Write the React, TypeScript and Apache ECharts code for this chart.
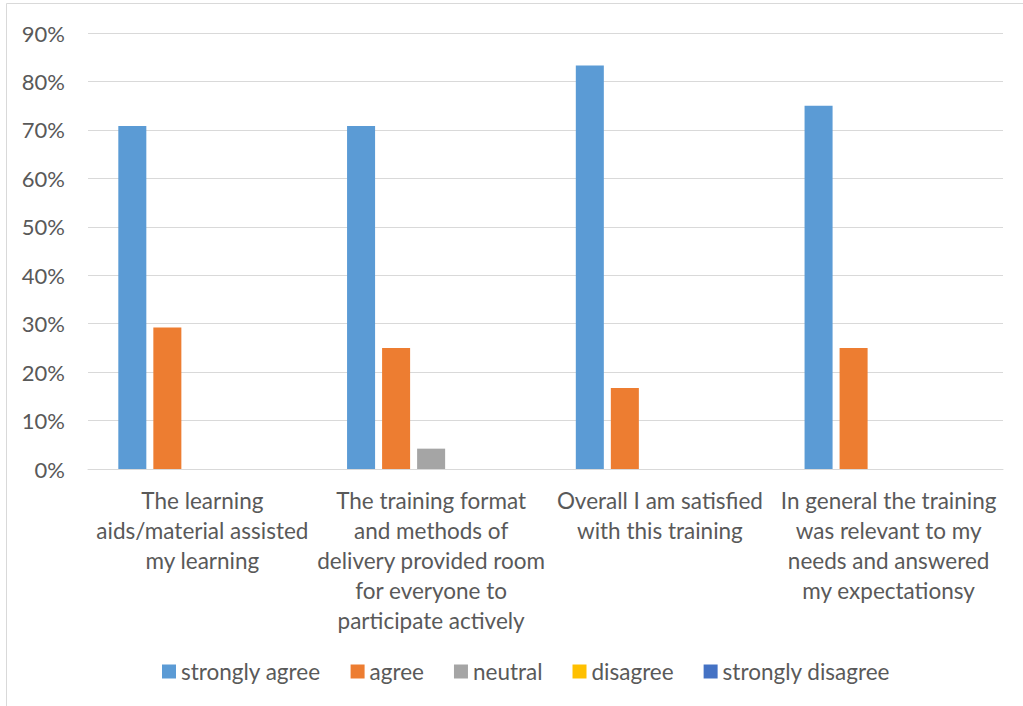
import React, { useEffect, useRef } from "react";
import * as echarts from "echarts";

const categories = [
  "The learning\naids/material assisted\nmy learning",
  "The training format\nand methods of\ndelivery provided room\nfor everyone to\nparticipate actively",
  "Overall I am satisfied\nwith this training",
  "In general the training\nwas relevant to my\nneeds and answered\nmy expectationsy",
];
const seriesNames = ["strongly agree", "agree", "neutral", "disagree", "strongly disagree"];
const stronglyAgree = [70.8, 70.8, 83.3, 75.0];
const agree = [29.2, 25.0, 16.7, 25.0];
const neutral = [0, 4.2, 0, 0];
const disagree = [0, 0, 0, 0];
const stronglyDisagree = [0, 0, 0, 0];
const colors = ["#5B9BD5", "#ED7D31", "#A5A5A5", "#FFC000", "#4472C4"];
const seriesData = [stronglyAgree, agree, neutral, disagree, stronglyDisagree];

const FONT = "Lato, 'Noto Sans', sans-serif";
const TEXT = "#595959";

export default function App() {
  const ref = useRef<HTMLDivElement>(null);
  useEffect(() => {
    if (!ref.current) return;
    const chart = echarts.init(ref.current, null, { renderer: "svg" });
    chart.setOption({
      animation: false,
      backgroundColor: "#ffffff",
      textStyle: { fontFamily: FONT },
      graphic: [
        {
          type: "rect",
          shape: { x: 6.5, y: 3.5, width: 1030, height: 720 },
          style: { fill: "none", stroke: "#d9d9d9", lineWidth: 1 },
          silent: true,
          z: -1,
        },
      ],
      grid: { left: 88, right: 20, top: 33, bottom: 237, containLabel: false },
      legend: {
        data: seriesNames,
        top: 655,
        left: 157,
        icon: "rect",
        itemWidth: 14,
        itemHeight: 14,
        itemGap: 30,
        textStyle: { color: TEXT, fontSize: 22.5, fontFamily: FONT },
      },
      xAxis: {
        type: "category",
        data: categories,
        axisLine: { lineStyle: { color: "#d9d9d9", width: 1 } },
        axisTick: { show: false },
        axisLabel: {
          interval: 0,
          color: TEXT,
          fontSize: 22.5,
          fontFamily: FONT,
          lineHeight: 30,
          margin: 16,
          align: "center",
        },
      },
      yAxis: {
        type: "value",
        min: 0,
        max: 90,
        interval: 10,
        axisLine: { show: false },
        axisTick: { show: false },
        splitLine: { lineStyle: { color: "#d9d9d9", width: 1 } },
        axisLabel: {
          color: TEXT,
          fontSize: 22,
          fontFamily: FONT,
          margin: 23,
          formatter: (v: number) => `${v}%`,
        },
      },
      series: seriesNames.map((name, i) => ({
        name,
        type: "bar",
        data: seriesData[i],
        itemStyle: { color: colors[i] },
        barGap: "25%",
        barCategoryGap: "26.5%",
      })),
    });
    return () => chart.dispose();
  }, []);
  return (
    <div
      ref={ref}
      style={{ position: "absolute", left: 0, top: 0, width: 1023, height: 706 }}
    />
  );
}
